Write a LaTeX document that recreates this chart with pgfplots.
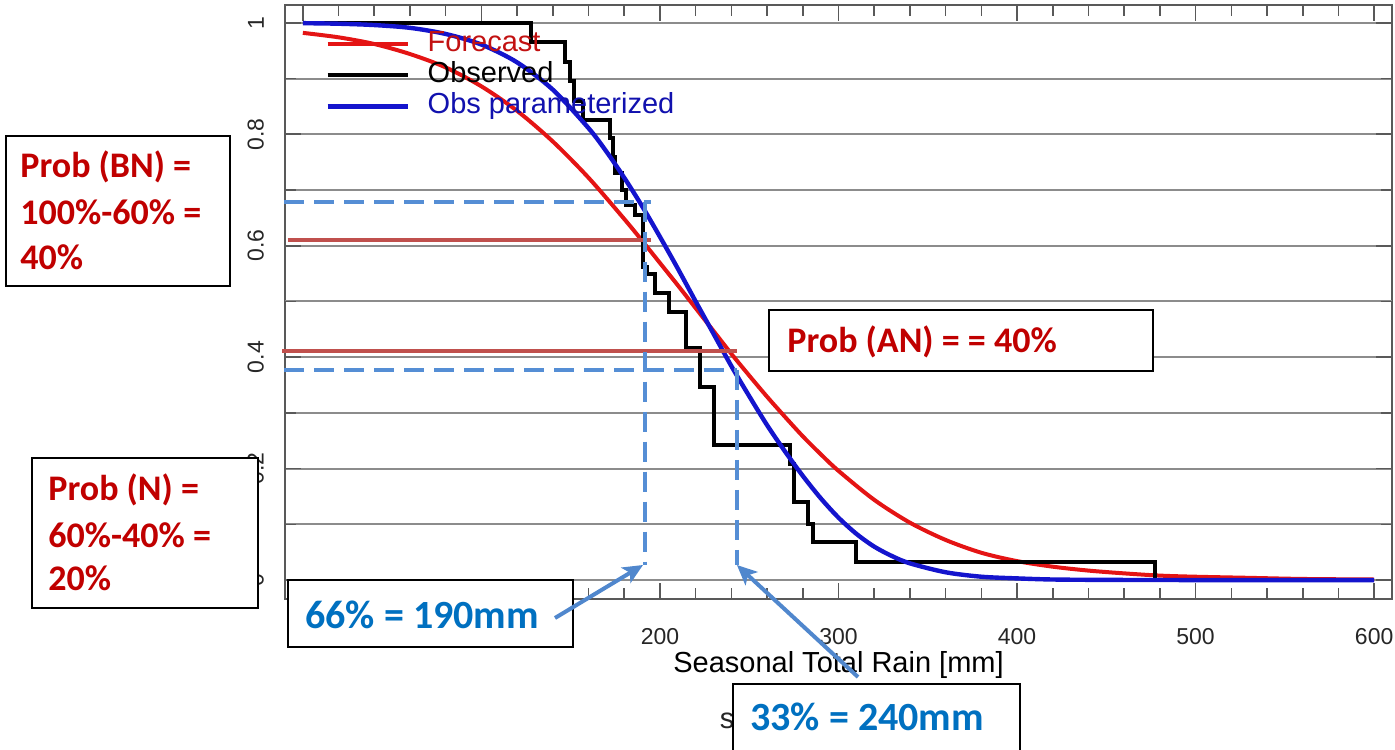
\documentclass[border=0pt]{standalone}
\usepackage{pgfplots}
\pgfplotsset{compat=1.18}
\usepackage{fontspec}
\setmainfont{Liberation Sans}
\newfontfamily\calib{Carlito}
\usetikzlibrary{arrows.meta}

\definecolor{fcred}{RGB}{228,20,20}
\definecolor{obsblue}{RGB}{20,20,205}
\definecolor{annred}{RGB}{192,80,77}
\definecolor{dashblue}{RGB}{85,142,213}
\definecolor{arrblue}{RGB}{80,135,205}
\definecolor{txtred}{RGB}{192,0,0}
\definecolor{txtblue}{RGB}{0,112,192}

\tikzset{
  abox/.style={draw=black, line width=0.75pt, fill=white},
  redtxt/.style={anchor=west, inner sep=0pt, text=txtred, font=\calib\bfseries\fontsize{18}{22}\selectfont},
  bluetxt/.style={anchor=west, inner sep=0pt, text=txtblue, font=\calib\bfseries\fontsize{20}{24}\selectfont},
  arr/.style={arrblue, line width=2pt, -{Stealth[length=10pt,width=9pt,inset=2.5pt]}},
  refdash/.style={dashblue, line width=2pt, dash pattern=on 10pt off 5pt},
  refred/.style={annred, line width=2pt},
}

\begin{document}
\begin{tikzpicture}
\begin{axis}[
  at={(142.5pt,-299.5pt)}, anchor=south west,
  scale only axis, width=553.5pt, height=297pt,
  xmin=-10, xmax=610, ymin=-0.034, ymax=1.032,
  clip=false,
  axis line style={draw=black!65, line width=1pt},
  xtick={0,100,...,600}, minor x tick num=4,
  ytick={0,0.2,0.4,0.6,0.8,1}, minor ytick={0.1,0.3,0.7,0.9},
  extra y ticks={0.5}, extra y tick labels={},
  extra tick style={major tick length=5.5pt, grid style={black!22, line width=1pt}},
  ymajorgrids, yminorgrids,
  major grid style={black!45, line width=1pt},
  minor grid style={black!45, line width=1pt},
  tick style={black!65, line width=0.8pt},
  major tick length=8pt, minor tick length=5.5pt,
  tick label style={font=\fontsize{11.5}{13}\selectfont, text=black!85},
  /pgf/number format/assume math mode=true,
  yticklabel style={rotate=90},
  xticklabel shift=11pt, yticklabel shift=7pt,
  xlabel={Seasonal Total Rain [mm]},
  xlabel style={font=\fontsize{14.5}{17}\selectfont, at={(axis description cs:0.5,0)}, anchor=center, yshift=-33pt},
  legend style={at={(axis cs:9,0.997)}, anchor=north west, draw=none, fill=none,
    font=\fontsize{14.5}{17}\selectfont, column sep=8pt, row sep=0pt,
    nodes={inner sep=1pt, text height=10.5pt, text depth=3pt}},
  legend image code/.code={\draw[#1] (0pt,0pt) -- (40pt,0pt);},
  legend cell align=left,
]
% forecast
\addplot[fcred, line width=2pt, smooth] coordinates {
  (0,0.982) (20,0.974) (40,0.962) (60,0.944) (80,0.92) (100,0.886) (120,0.842)
  (140,0.787) (160,0.722) (180,0.648) (190,0.609) (200,0.569) (210,0.529)
  (220,0.488) (230,0.447) (240,0.406) (250,0.367) (260,0.329) (270,0.293)
  (280,0.258) (290,0.226) (300,0.196) (320,0.144) (340,0.103) (360,0.072)
  (380,0.049) (400,0.034) (420,0.024) (440,0.017) (460,0.012) (480,0.008)
  (500,0.006) (530,0.004) (560,0.002) (600,0.001)
};
\addlegendentry{\textcolor{fcred!85!black}{Forecast}}
% observed
\addplot[black, line width=2pt] coordinates {
  (0,1) (128,1) (128,0.966) (147,0.966) (147,0.93) (149.5,0.93) (149.5,0.895)
  (152,0.895) (152,0.86) (157,0.86) (157,0.826) (172,0.826) (172,0.793)
  (173.5,0.793) (173.5,0.76) (175,0.76) (175,0.73) (178.5,0.73) (178.5,0.70)
  (181,0.70) (181,0.673) (186,0.673) (186,0.655) (190.5,0.655) (190.5,0.562)
  (193,0.562) (193,0.55) (197,0.55) (197,0.515) (205,0.515) (205,0.481)
  (214.5,0.481) (214.5,0.416) (222.5,0.416) (222.5,0.347) (230.5,0.347)
  (230.5,0.243) (273,0.243) (273,0.208) (275,0.208) (275,0.14) (283,0.14)
  (283,0.1) (285.5,0.1) (285.5,0.068) (310,0.068) (310,0.032) (477,0.032)
  (477,0.0)
};
\addlegendentry{Observed}
% obs parameterized
\addplot[obsblue, line width=2.2pt, smooth] coordinates {
  (0,0.9994) (20,0.9984) (40,0.996) (60,0.991) (80,0.980) (100,0.961)
  (120,0.929) (140,0.880) (160,0.811) (170,0.769) (180,0.722) (190,0.671)
  (200,0.616) (210,0.559) (220,0.5) (230,0.442) (240,0.384) (250,0.330)
  (260,0.278) (270,0.231) (280,0.187) (290,0.147) (300,0.112) (310,0.083)
  (320,0.060) (330,0.043) (340,0.030) (360,0.014) (380,0.006) (400,0.003)
  (420,0.001) (450,0.0003) (500,0) (600,0)
};
\addlegendentry{\textcolor{obsblue!85!black}{Obs parameterized}}
% reference lines
\addplot[refred, forget plot] coordinates {(-8.5,0.61) (195,0.61)};
\addplot[refred, forget plot] coordinates {(-11.5,0.411) (243,0.411)};
\addplot[refdash, forget plot] coordinates {(-10.5,0.679) (195,0.679)};
\addplot[refdash, forget plot] coordinates {(191.6,0.679) (191.6,0.027)};
\addplot[refdash, forget plot] coordinates {(-10.5,0.377) (243,0.377)};
\addplot[refdash, forget plot] coordinates {(243,0.377) (243,0.027)};
\coordinate (a1) at (axis cs:190.5,0.027);
\coordinate (a2) at (axis cs:243.1,0.027);
\end{axis}

\begin{scope}[x=0.5pt,y=-0.5pt]
\node[font=\fontsize{14.5}{17}\selectfont, text=black!85] at (727,721) {s};

\draw[abox] (6,136) rectangle (230,286);
\node[redtxt] at (20,167) {Prob (BN) =};
\node[redtxt] at (20,212) {100\%-60\% =};
\node[redtxt] at (20,257) {40\%};

\draw[abox] (32,458) rectangle (258,608);
\node[redtxt] at (48,490) {Prob (N) =};
\node[redtxt] at (48,535) {60\%-40\% =};
\node[redtxt] at (48,578) {20\%};

\draw[abox] (769,310) rectangle (1153,371);
\node[redtxt] at (787,342) {Prob (AN) = = 40\%};

\draw[abox] (288,580) rectangle (573,647);
\node[bluetxt] at (305,615) {66\% = 190mm};

\draw[abox] (733,684) rectangle (1020,770);
\node[bluetxt] at (750,717) {33\% = 240mm};

\draw[arr] (555,618) -- (a1);
\draw[arr] (858,677) -- (a2);

\pgfresetboundingbox
\path (0,0) rectangle (1395,749);
\end{scope}
\end{tikzpicture}
\end{document}
